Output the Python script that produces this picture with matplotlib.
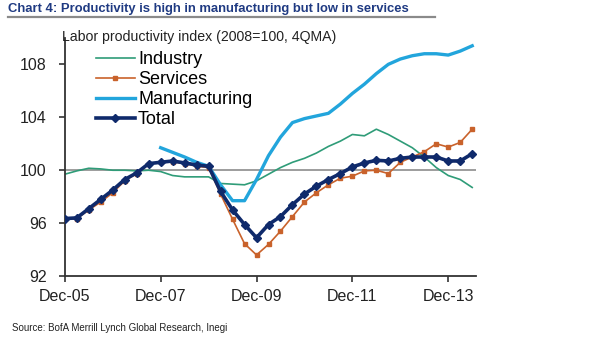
import numpy as np
import matplotlib
matplotlib.use("Agg")
import matplotlib.pyplot as plt

plt.rcParams['font.family'] = ['Liberation Sans', 'DejaVu Sans']

# quarterly index, Dec-05 .. Jun-14
quarters = np.arange(35)
tick_pos = [0, 8, 16, 24, 32]
tick_labels = ['Dec-05', 'Dec-07', 'Dec-09', 'Dec-11', 'Dec-13']

industry = [99.7, 99.95, 100.15, 100.1, 100.0, 100.0, 99.95, 100.0, 99.9, 99.6,
            99.5, 99.5, 99.5, 99.0, 98.95, 98.9, 99.2, 99.7, 100.2, 100.6,
            100.9, 101.3, 101.8, 102.2, 102.7, 102.6, 103.1, 102.7, 102.2, 101.7,
            101.0, 100.2, 99.6, 99.3, 98.7]

services = [96.3, 96.35, 97.0, 97.6, 98.3, 99.2, 99.75, 100.45, 100.6, 100.65,
            100.5, 100.3, 100.2, 98.2, 96.3, 94.45, 93.6, 94.4, 95.4, 96.5,
            97.6, 98.3, 98.9, 99.4, 99.55, 99.95, 100.0, 99.75, 100.6, 101.0,
            101.4, 102.0, 101.75, 102.1, 103.1]

# manufacturing series starts in Dec-07
manuf_start = 8
manufacturing = [101.7, 101.35, 101.0, 100.6, 100.3, 98.9, 97.7, 97.7, 99.3, 101.1,
                 102.5, 103.6, 103.9, 104.1, 104.3, 105.0, 105.8, 106.5, 107.3, 108.0,
                 108.4, 108.65, 108.8, 108.8, 108.7, 109.0, 109.4]

total = [96.35, 96.4, 97.1, 97.8, 98.5, 99.3, 99.8, 100.5, 100.6, 100.7,
         100.55, 100.4, 100.3, 98.4, 97.0, 95.9, 94.9, 95.9, 96.5, 97.4,
         98.2, 98.8, 99.3, 99.75, 100.25, 100.55, 100.75, 100.7, 100.9, 101.0,
         101.0, 101.0, 100.7, 100.7, 101.25]

c_industry = '#2f9c78'
c_services = '#c9622b'
c_manuf = '#22a5dc'
c_total = '#0f2a6b'

fig = plt.figure(figsize=(6, 3.38), dpi=100)
ax = fig.add_axes([0.108, 0.183, 0.685, 0.705])

ax.axhline(100, color='#8c8c8c', lw=1.2, zorder=1)

ax.plot(quarters, industry, color=c_industry, lw=1.2, label='Industry', zorder=2)
ax.plot(quarters, services, color=c_services, lw=1.2, marker='s', ms=3.5,
        label='Services', zorder=3)
ax.plot(quarters[manuf_start:], manufacturing, color=c_manuf, lw=2.4,
        label='Manufacturing', zorder=4)
ax.plot(quarters, total, color=c_total, lw=2.6, marker='D', ms=4,
        label='Total', zorder=5)

ax.set_xlim(0, 34.3)
ax.set_ylim(92, 110)
ax.set_yticks([92, 96, 100, 104, 108])
ax.set_xticks(tick_pos)
ax.set_xticklabels(tick_labels)

for side in ['top', 'right']:
    ax.spines[side].set_visible(False)
for side in ['left', 'bottom']:
    ax.spines[side].set_color('#333333')
    ax.spines[side].set_linewidth(1.3)
ax.tick_params(axis='both', direction='out', length=4, width=1.2,
               color='#333333', labelsize=11.5, labelcolor='#222222')
ax.tick_params(axis='y', pad=9)
ax.tick_params(axis='x', pad=5)

ax.legend(loc='upper left', bbox_to_anchor=(0.075, 0.945), frameon=False,
          fontsize=13, handlelength=2.2, handletextpad=0.15, labelspacing=0.17,
          borderaxespad=0, borderpad=0)

fig.text(0.104, 1 - 37 / 338, 'Labor productivity index (2008=100, 4QMA)',
         fontsize=10.2, color='#222222', va='center', ha='left')

fig.text(0.013, 1 - 12 / 338,
         'Chart 4: Productivity is high in manufacturing but low in services',
         fontweight='bold', fontsize=9.4, color='#1f3a82', va='baseline', ha='left')
fig.add_artist(plt.Line2D([8 / 600, 435 / 600], [1 - 16.5 / 338, 1 - 16.5 / 338],
                          color='#8a8a8a', lw=1.6))

fig.text(0.02, 1 - 328 / 338, 'Source: BofA Merrill Lynch Global Research, Inegi',
         fontsize=7, color='#222222', va='center', ha='left')

fig.savefig('out.png', dpi=100, facecolor='white')
